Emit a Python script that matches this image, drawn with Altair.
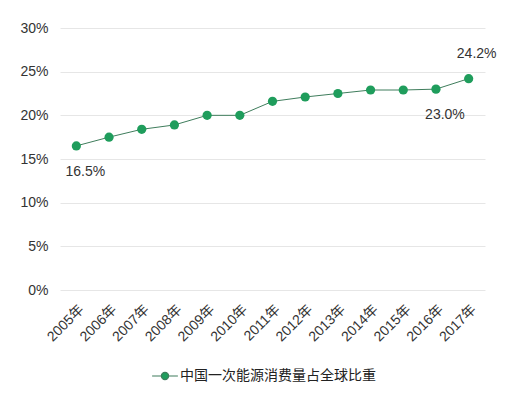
import altair as alt
import pandas as pd

years = ["2005年", "2006年", "2007年", "2008年", "2009年", "2010年", "2011年",
         "2012年", "2013年", "2014年", "2015年", "2016年", "2017年"]
share = [16.5, 17.5, 18.4, 18.9, 20.0, 20.0, 21.6, 22.1, 22.5, 22.9, 22.9, 23.0, 24.2]
series_name = "中国一次能源消费量占全球比重"

below_years = ["2005年", "2016年"]
below_values = [16.5, 23.0]
above_years = ["2017年"]
above_values = [24.2]

FONT = "Liberation Sans, Arial, Noto Sans CJK SC, sans-serif"
GREEN = "#1f9d5c"

df = pd.DataFrame({"year": years, "share": share, "series": series_name})
df_below = pd.DataFrame({"year": below_years, "share": below_values,
                         "label": [f"{v:.1f}%" for v in below_values]})
df_above = pd.DataFrame({"year": above_years, "share": above_values,
                         "label": [f"{v:.1f}%" for v in above_values]})

x = alt.X("year:N", sort=years, title=None,
          scale=alt.Scale(paddingInner=1, paddingOuter=0.5),
          axis=alt.Axis(labelAngle=-45, labelFontSize=14, labelColor="#333333",
                        labelFont=FONT, ticks=False, domain=False, grid=False,
                        labelPadding=12))
y = alt.Y("share:Q", title=None,
          scale=alt.Scale(domain=[0, 30], nice=False),
          axis=alt.Axis(values=[0, 5, 10, 15, 20, 25, 30],
                        labelExpr="datum.value + '%'",
                        labelFontSize=14, labelColor="#333333", labelFont=FONT,
                        ticks=False, domain=False, gridColor="#e6e6e6",
                        labelPadding=12))

line = alt.Chart(df).mark_line(color="#3f7d5c", strokeWidth=1).encode(x=x, y=y)
points = alt.Chart(df).mark_point(filled=True, size=85, opacity=1).encode(
    x=x, y=y,
    color=alt.Color("series:N",
                    scale=alt.Scale(domain=[series_name], range=[GREEN]),
                    legend=alt.Legend(
                        title=None, orient="none", legendX=96, legendY=339,
                        labelFontSize=14, labelColor="#222222", labelFont=FONT,
                        labelLimit=0,
                        symbolType="M-1.6,0L-0.45,0M0.45,0L1.6,0M-0.45,0a0.45,0.45 0 1,0 0.9,0a0.45,0.45 0 1,0 -0.9,0",
                        symbolSize=260, symbolStrokeWidth=1.2,
                        symbolFillColor=GREEN, symbolStrokeColor="#3f7d5c",
                        labelOffset=6)))

txt_below = alt.Chart(df_below).mark_text(dy=26, dx=9, fontSize=14, color="#333333",
                                          font=FONT).encode(x=x, y=y, text="label:N")
txt_above = alt.Chart(df_above).mark_text(dy=-25, dx=8, fontSize=14, color="#333333",
                                          font=FONT).encode(x=x, y=y, text="label:N")

chart = alt.layer(line, points, txt_below, txt_above).properties(
    width=425, height=262,
    autosize=alt.AutoSizeParams(type="none"),
    padding={"left": 52, "top": 20, "right": 38, "bottom": 99},
    background="white",
).configure_view(stroke=None)

chart.save("out.html", embed_options={"renderer": "svg", "actions": False})
